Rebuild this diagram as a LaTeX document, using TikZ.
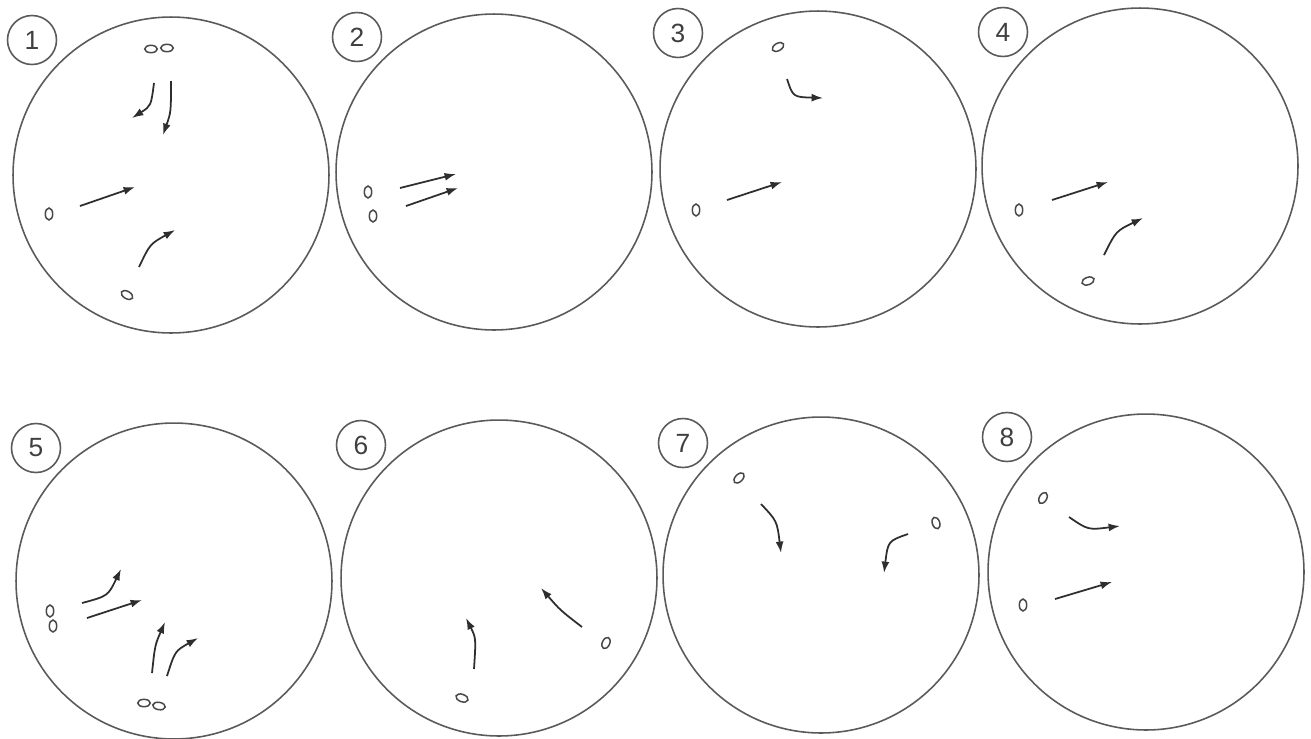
\documentclass[tikz,border=0pt]{standalone}
\usepackage{fontspec}
\setmainfont{Liberation Sans}
\usetikzlibrary{arrows.meta, shapes.geometric}
\definecolor{rand}{HTML}{5A5A5A}
\definecolor{tinte}{HTML}{2E2E2E}

\begin{document}
\begin{tikzpicture}[x=0.02cm, y=-0.02cm,
      schale/.style={circle, draw=rand, line width=0.9pt, inner sep=0pt,
        minimum size=6.32cm},
      nummer/.style={circle, draw=rand, line width=0.9pt, inner sep=0pt,
        minimum size=0.98cm, text=rand!70!black, font=\fontsize{15}{15}\selectfont},
      zelle/.style={ellipse, draw=rand!80!black, line width=0.85pt, inner sep=0pt,
        minimum width=7.2pt, minimum height=4.2pt},
      zellev/.style={zelle, minimum width=4.2pt, minimum height=6.8pt},
      pfeil/.style={-{Latex[length=6.5pt, width=4.5pt]}, tinte, line width=1pt}]
    \fill[white] (0,0) rectangle (1311,738);
    \useasboundingbox (0,0) rectangle (1311,738);

    % obere Reihe
    \node[schale] (s1) at (171,175) {};
    \node[schale] (s2) at (494,172) {};
    \node[schale] (s3) at (818,169) {};
    \node[schale] (s4) at (1140,166) {};
    % untere Reihe
    \node[schale] (s5) at (174,581) {};
    \node[schale] (s6) at (499,578) {};
    \node[schale] (s7) at (821,575) {};
    \node[schale] (s8) at (1146,572) {};

    \node[nummer] (n1) at (32,40) {1};
    \node[nummer] (n2) at (357,37) {2};
    \node[nummer] (n3) at (678,33) {3};
    \node[nummer] (n4) at (1003,32) {4};
    \node[nummer] (n5) at (36,448) {5};
    \node[nummer] (n6) at (361,445) {6};
    \node[nummer] (n7) at (683,443) {7};
    \node[nummer] (n8) at (1007,437) {8};

    % Schale 1
    \node[zelle] (z1a) at (151,49) {};
    \node[zelle] (z1b) at (167,48) {};
    \node[zellev] (z1c) at (49,214) {};
    \node[zelle, rotate=-30] (z1d) at (127,295) {};
    \draw[pfeil] (154,83) .. controls (151,106) .. (132,118);
    \draw[pfeil] (171,81) .. controls (171,112) .. (163,135);
    \draw[pfeil] (80,206) -- (135,187);
    \draw[pfeil] (139,267) .. controls (150,244) .. (175,230);

    % Schale 2
    \node[zellev] (z2a) at (368,192) {};
    \node[zellev] (z2b) at (373,216) {};
    \draw[pfeil] (400,188) -- (456,174);
    \draw[pfeil] (406,206) -- (458,188);

    % Schale 3
    \node[zelle, rotate=30] (z3a) at (778,47) {};
    \node[zellev] (z3b) at (696,210) {};
    \draw[pfeil] (787,79) .. controls (793,97) .. (823,98);
    \draw[pfeil] (727,200) -- (782,182);

    % Schale 4
    \node[zellev] (z4a) at (1019,210) {};
    \node[zelle, rotate=20] (z4b) at (1088,281) {};
    \draw[pfeil] (1052,200) -- (1108,182);
    \draw[pfeil] (1104,255) .. controls (1116,231) .. (1143,218);

    % Schale 5
    \node[zellev] (z5a) at (50,611) {};
    \node[zellev] (z5b) at (53,626) {};
    \node[zelle] (z5c) at (144,703) {};
    \node[zelle, rotate=-10] (z5d) at (159,706) {};
    \draw[pfeil] (82,603) .. controls (108,596) .. (121,569);
    \draw[pfeil] (87,618) -- (142,600);
    \draw[pfeil] (152,673) .. controls (155,645) .. (165,622);
    \draw[pfeil] (167,676) .. controls (175,651) .. (198,638);

    % Schale 6
    \node[zellev, rotate=-25] (z6a) at (606,643) {};
    \node[zelle, rotate=-20] (z6b) at (462,698) {};
    \draw[pfeil] (474,669) .. controls (476,638) .. (466,618);
    \draw[pfeil] (582,627) .. controls (560,610) .. (541,588);

    % Schale 7
    \node[zelle, rotate=45] (z7a) at (739,478) {};
    \node[zellev, rotate=20] (z7b) at (936,523) {};
    \draw[pfeil] (761,504) .. controls (777,521) .. (781,553);
    \draw[pfeil] (908,534) .. controls (888,541) .. (884,573);

    % Schale 8
    \node[zellev, rotate=-30] (z8a) at (1043,498) {};
    \node[zellev] (z8b) at (1023,605) {};
    \draw[pfeil] (1069,517) .. controls (1088,530) .. (1120,526);
    \draw[pfeil] (1055,599) -- (1112,582);
  \end{tikzpicture}
\end{document}
